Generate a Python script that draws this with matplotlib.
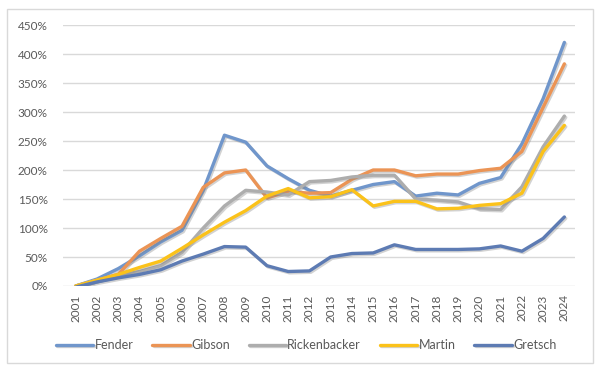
import matplotlib.pyplot as plt
import matplotlib.patheffects as pe
from matplotlib.ticker import FuncFormatter

years = [str(y) for y in range(2001, 2025)]

fender = [0, 12, 30, 52, 76, 96, 165, 260, 248, 207, 185, 165, 155, 165,
          175, 180, 155, 160, 157, 177, 187, 245, 323, 420]
gibson = [0, 10, 20, 60, 82, 103, 170, 195, 200, 152, 163, 160, 161, 184,
          200, 200, 190, 193, 193, 199, 203, 232, 308, 383]
rickenbacker = [0, 10, 18, 25, 35, 58, 100, 138, 165, 162, 157, 180, 182, 188,
                191, 191, 150, 148, 145, 133, 132, 171, 240, 293]
martin = [0, 10, 20, 32, 43, 65, 88, 110, 130, 155, 168, 152, 154, 166,
          138, 146, 146, 133, 134, 139, 142, 160, 232, 277]
gretsch = [-2, 7, 14, 20, 28, 43, 55, 68, 67, 35, 25, 26, 50, 56,
           57, 71, 63, 63, 63, 64, 69, 60, 82, 119]

series = [
    ('Fender', fender, '#7096CB'),
    ('Gibson', gibson, '#EB9455'),
    ('Rickenbacker', rickenbacker, '#ADADAD'),
    ('Martin', martin, '#FBC21A'),
    ('Gretsch', gretsch, '#5D7BB3'),
]

plt.rcParams['font.family'] = ['Lato', 'DejaVu Sans']

fig = plt.figure(figsize=(6.02, 3.75), dpi=100)
ax = fig.add_axes([63 / 602, 1 - 286 / 375, 512 / 602, 261 / 375])

# chart border
fig.patches.append(plt.Rectangle((7 / 602, 1 - 363 / 375), 586 / 602, 354 / 375,
                                 transform=fig.transFigure, fill=False,
                                 edgecolor='#D9D9D9', linewidth=1))

x = list(range(len(years)))
shadow = [pe.SimpleLineShadow(offset=(1, -1), shadow_color='#808080', alpha=0.35),
          pe.Normal()]
for name, vals, color in series:
    ax.plot(x, [v / 100 for v in vals], color=color, lw=2.4, label=name,
            solid_capstyle='round', solid_joinstyle='round', path_effects=shadow)

ax.set_xlim(-0.6, 23.5)
ax.set_ylim(0, 4.5)
ax.set_yticks([i * 0.5 for i in range(10)])
ax.yaxis.set_major_formatter(FuncFormatter(lambda v, p: f'{v:.0%}'))
ax.set_xticks(x)
ax.set_xticklabels(years, rotation=90)
ax.grid(axis='y', color='#D9D9D9', lw=1)
ax.set_axisbelow(True)
for s in ax.spines.values():
    s.set_visible(False)
ax.tick_params(length=0, colors='#595959', labelsize=8.5)
ax.tick_params(axis='y', pad=11)
ax.tick_params(axis='x', pad=6)

leg = ax.legend(loc='upper center', bbox_to_anchor=(0.475, -0.16), ncol=5,
                frameon=False, fontsize=9, handlelength=3.0, handletextpad=0.1,
                columnspacing=1.5, labelcolor='#595959')

fig.savefig('out.png', dpi=100)
